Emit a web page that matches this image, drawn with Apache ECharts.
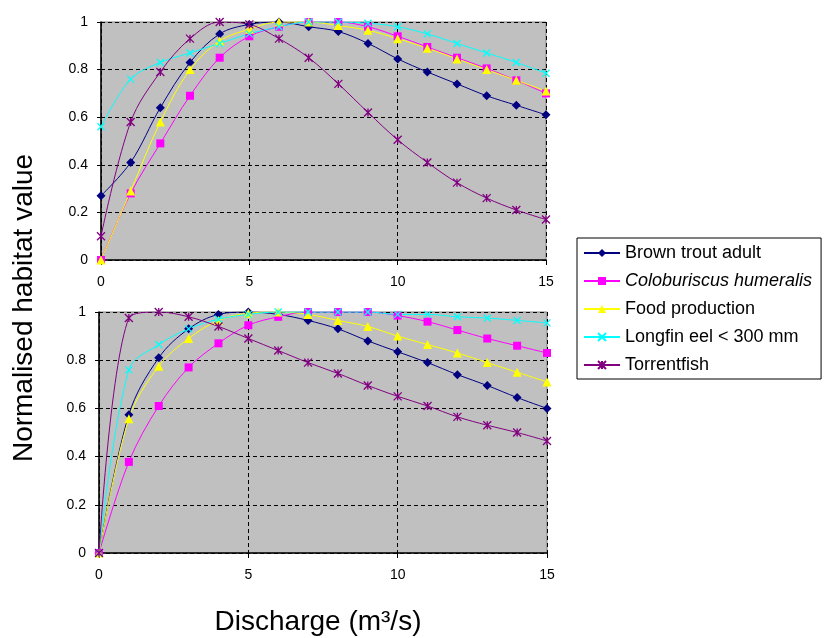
<!DOCTYPE html>
<html>
<head>
<meta charset="utf-8">
<script src="https://cdn.jsdelivr.net/npm/echarts@6/dist/echarts.min.js"></script>
<style>html,body{margin:0;padding:0;background:#fff}#c{width:826px;height:638px}</style>
</head>
<body>
<div id="c"></div>
<script>
const discharge = [0,1,2,3,4,5,6,7,8,9,10,11,12,13,14,15];
const seriesNames = ['Brown trout adult','Coloburiscus humeralis','Food production','Longfin eel < 300 mm','Torrentfish'];
const xTicks = [0,5,10,15];
const yTicks = [0,0.2,0.4,0.6,0.8,1];

// Top panel
const topBrownTrout   = [0.27,0.41,0.64,0.83,0.95,0.99,1.0,0.98,0.96,0.91,0.845,0.79,0.74,0.69,0.65,0.61];
const topColoburiscus = [0,0.28,0.49,0.69,0.85,0.94,0.98,1.0,1.0,0.98,0.94,0.895,0.85,0.805,0.755,0.70];
const topFood         = [0,0.29,0.58,0.80,0.92,0.97,1.0,1.0,0.985,0.965,0.93,0.89,0.845,0.80,0.755,0.71];
const topLongfin      = [0.56,0.76,0.83,0.87,0.91,0.95,0.98,1.0,1.0,0.995,0.98,0.95,0.91,0.87,0.83,0.785];
const topTorrent      = [0.10,0.58,0.79,0.93,1.0,0.99,0.93,0.85,0.74,0.62,0.505,0.41,0.325,0.26,0.21,0.17];

// Bottom panel
const botBrownTrout   = [0,0.574,0.81,0.93,0.99,1.0,0.99,0.965,0.93,0.88,0.835,0.79,0.74,0.695,0.645,0.60];
const botColoburiscus = [0,0.378,0.61,0.77,0.87,0.945,0.98,1.0,1.0,1.0,0.985,0.96,0.925,0.89,0.86,0.83];
const botFood         = [0,0.557,0.775,0.89,0.965,0.995,1.0,0.99,0.965,0.94,0.90,0.865,0.83,0.79,0.75,0.71];
const botLongfin      = [0,0.76,0.865,0.93,0.97,0.99,1.0,1.0,1.0,1.0,0.99,0.99,0.98,0.975,0.965,0.955];
const botTorrent      = [0,0.975,1.0,0.98,0.94,0.89,0.84,0.79,0.745,0.695,0.65,0.61,0.565,0.53,0.50,0.465];

const colors = ['#000080','#ff00ff','#ffff00','#00ffff','#800080'];
const symbols = ['diamond','rect','triangle','path://M0,0L10,10M10,0L0,10','path://M0,0L10,10M10,0L0,10M5,0L5,10'];
const symbolSizes = [9,8,9,7,8];

const topData = [topBrownTrout, topColoburiscus, topFood, topLongfin, topTorrent];
const botData = [botBrownTrout, botColoburiscus, botFood, botLongfin, botTorrent];

function mkSeries(idx, vals, panel) {
  return {
    name: seriesNames[idx],
    type: 'line',
    xAxisIndex: panel, yAxisIndex: panel,
    data: discharge.map((x, i) => [x, vals[i]]),
    smooth: 0.35,
    symbol: symbols[idx],
    symbolSize: symbolSizes[idx],
    showAllSymbol: true,
    lineStyle: {color: colors[idx], width: 1},
    itemStyle: {color: colors[idx], borderColor: colors[idx], borderWidth: (idx >= 3 ? 1.3 : 0)},
    emphasis: {disabled: true},
    animation: false
  };
}

const series = [];
topData.forEach((v, i) => series.push(mkSeries(i, v, 0)));
botData.forEach((v, i) => series.push(mkSeries(i, v, 1)));

const FF = 'Liberation Sans, Arial, sans-serif';
const labelFont = {color: '#000', fontSize: 14, fontFamily: FF};

function xAxis(grid) {
  return {
    type: 'value', gridIndex: grid, min: 0, max: 15, interval: 5,
    axisLine: {show: true, onZero: false, lineStyle: {color: '#000', width: 1.5}},
    axisTick: {show: true, length: 5, lineStyle: {color: '#000'}},
    axisLabel: Object.assign({margin: 15, formatter: v => xTicks.includes(v) ? String(v) : ''}, labelFont),
    splitLine: {show: true, lineStyle: {color: '#000', type: [4, 3], width: 1}}
  };
}
function yAxis(grid) {
  return {
    type: 'value', gridIndex: grid, min: 0, max: 1, interval: 0.2,
    axisLine: {show: true, lineStyle: {color: '#000', width: 1.5}},
    axisTick: {show: true, length: 4, lineStyle: {color: '#000'}},
    axisLabel: Object.assign({margin: 13, formatter: v => {
      const t = yTicks.find(k => Math.abs(k - v) < 1e-9);
      return t === undefined ? '' : String(Math.round(t * 10) / 10);
    }}, labelFont),
    splitLine: {show: true, lineStyle: {color: '#000', type: [4, 3], width: 1}}
  };
}

const chart = echarts.init(document.getElementById('c'), null, {renderer: 'canvas'});
chart.setOption({
  animation: false,
  backgroundColor: '#fff',
  grid: [
    {left: 101, top: 22, width: 445, height: 238, show: true, backgroundColor: '#c0c0c0', borderColor: '#808080', borderWidth: 1},
    {left: 99, top: 312, width: 448, height: 241, show: true, backgroundColor: '#c0c0c0', borderColor: '#808080', borderWidth: 1}
  ],
  xAxis: [xAxis(0), xAxis(1)],
  yAxis: [yAxis(0), yAxis(1)],
  legend: {
    orient: 'vertical',
    left: 577, top: 238,
    data: seriesNames,
    backgroundColor: '#fff',
    borderColor: '#000', borderWidth: 1,
    padding: [6, 9, 5, 6],
    itemWidth: 36, itemHeight: 10, itemGap: 10,
    selectedMode: false,
    textStyle: {color: '#000', fontSize: 18, fontFamily: FF, lineHeight: 18,
      rich: {it: {fontStyle: 'italic', fontSize: 18, fontFamily: FF, color: '#000'}}},
    formatter: n => n === 'Coloburiscus humeralis' ? '{it|' + n + '}' : n
  },
  graphic: [
    {type: 'text', style: {text: 'Normalised habitat value', fontSize: 28, fontFamily: FF, fill: '#000', textAlign: 'center', textVerticalAlign: 'middle'}, rotation: Math.PI / 2, x: 24, y: 308},
    {type: 'text', style: {text: 'Discharge (m\u00b3/s)', fontSize: 28, fontFamily: FF, fill: '#000', textAlign: 'center', textVerticalAlign: 'middle'}, x: 318, y: 622}
  ],
  series: series
});
</script>
</body>
</html>
